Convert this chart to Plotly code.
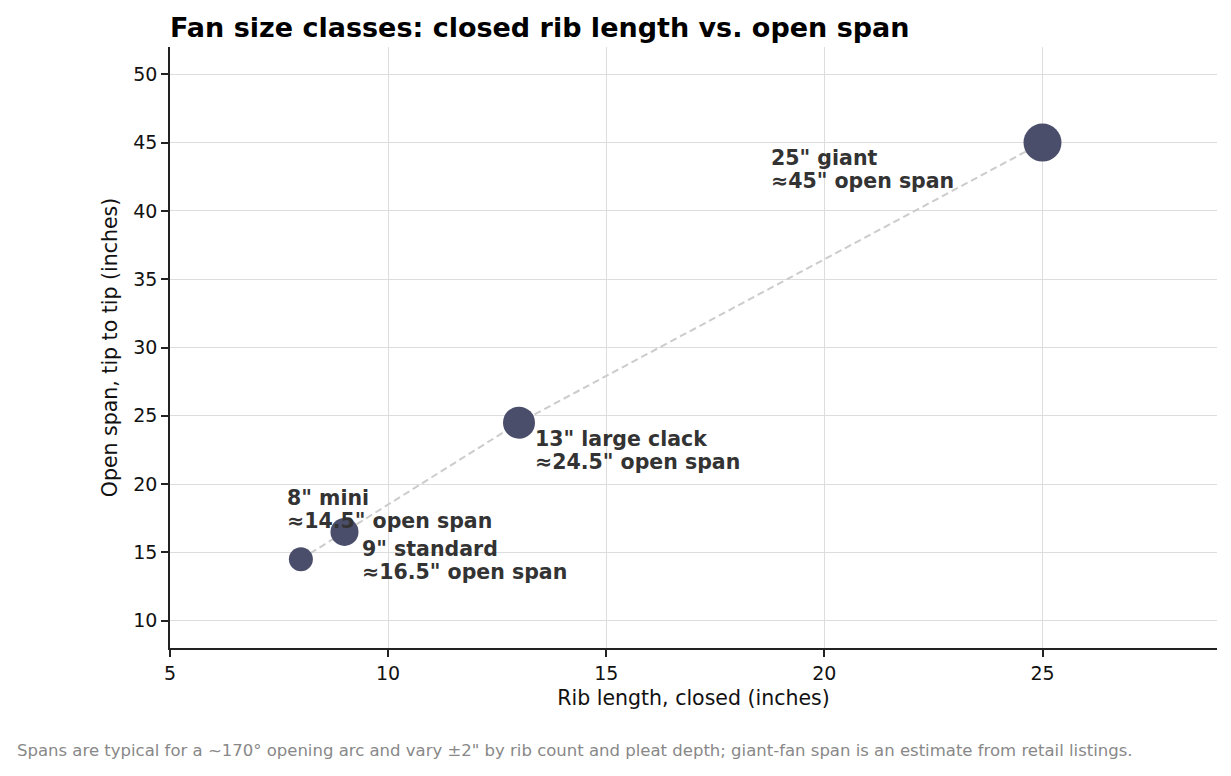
import plotly.graph_objects as go

# fan size classes
rib_length = [8, 9, 13, 25]
open_span = [14.5, 16.5, 24.5, 45]
marker_px = [24, 28, 32, 38]
class_names = ['8" mini', '9" standard', '13" large clack', '25" giant']

# label offsets in pixels from the point: (dx, dy of first line)
label_pos = [(-16, 75), (15, -3), (14, -2), (-274, -1)]
LINE_GAP = 23

fig = go.Figure()

fig.add_trace(go.Scatter(
    x=rib_length, y=open_span, mode="lines",
    line=dict(color="#cccccc", width=2, dash="7px,4px"),
    hoverinfo="skip", showlegend=False,
))
fig.add_trace(go.Scatter(
    x=rib_length, y=open_span, mode="markers",
    marker=dict(size=marker_px, color="#4a4e6b", opacity=1, line=dict(width=0)),
    showlegend=False,
))

for x, y, name, (dx, dy) in zip(rib_length, open_span, class_names, label_pos):
    lines = [name, f"≈{y:g}\" open span"]
    for i, txt in enumerate(lines):
        fig.add_annotation(
            x=x, y=y, text=f"<b>{txt}</b>",
            showarrow=False, xanchor="left", yanchor="top", align="left",
            xshift=dx, yshift=dy - i * LINE_GAP,
            font=dict(size=20.5, color="#333333", family="DejaVu Sans"),
        )

fig.add_annotation(
    xref="paper", yref="paper", x=-0.148, y=-0.171, xanchor="left", yanchor="middle",
    text="Spans are typical for a ~170° opening arc and vary ±2\" by rib count and pleat depth; "
         "giant-fan span is an estimate from retail listings.",
    showarrow=False, font=dict(size=16.5, color="#888888"),
)

axis_common = dict(
    showgrid=True, gridcolor="#dddddd", gridwidth=1,
    showline=True, linecolor="#222222", linewidth=1.6,
    ticks="outside", ticklen=7, tickwidth=1.6, tickcolor="#222222",
    tickfont=dict(size=19, color="#111111"), zeroline=False,
)

# page body adds an 8px offset, so the figure is 8px smaller
fig.update_layout(
    width=1223, height=768,
    margin=dict(l=162, r=14, t=39, b=128),
    paper_bgcolor="white", plot_bgcolor="white",
    font=dict(family="DejaVu Sans", color="#111111"),
    title=dict(text="<b>Fan size classes: closed rib length vs. open span</b>",
               xref="paper", x=0, xanchor="left", yref="container", y=0.975, yanchor="middle",
               font=dict(size=27, color="#000000")),
    xaxis=dict(range=[5, 29], tickvals=[5, 10, 15, 20, 25],
               title=dict(text="Rib length, closed (inches)", font=dict(size=20.5), standoff=8),
               **axis_common),
    yaxis=dict(range=[8, 52], tickvals=[10, 15, 20, 25, 30, 35, 40, 45, 50],
               title=dict(text="Open span, tip to tip (inches)", font=dict(size=20.5), standoff=10),
               **axis_common),
)

fig.write_html("out.html")
